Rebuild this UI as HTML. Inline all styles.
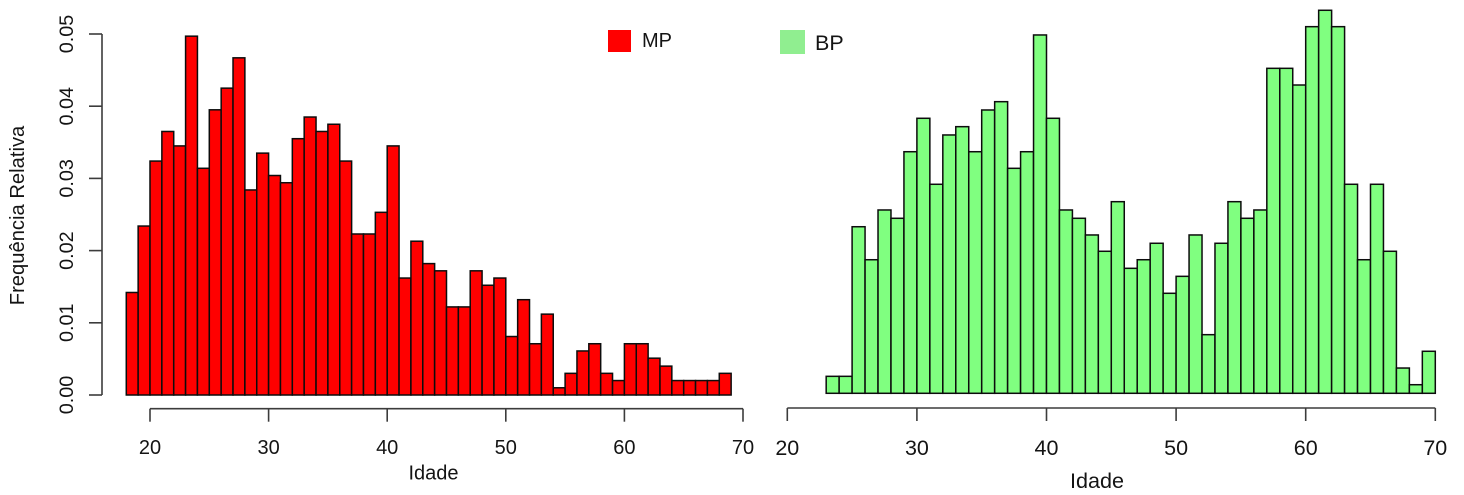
<!DOCTYPE html>
<html lang="pt">
<head>
<meta charset="utf-8">
<title>Frequência Relativa por Idade</title>
<style>
html,body{margin:0;padding:0;background:#fff;width:1464px;height:495px;overflow:hidden}
svg{display:block;filter:blur(0.35px)}
text{font-family:"Liberation Sans",Arial,sans-serif;fill:#141414}
</style>
</head>
<body>
<svg id="chart" xmlns="http://www.w3.org/2000/svg" width="1464" height="495" viewBox="0 0 1464 495">
  <rect x="0" y="0" width="1464" height="495" fill="#ffffff"/>
  <g id="left-panel"></g>
  <g id="right-panel"></g>
  <text transform="translate(24,215.5) rotate(-90)" text-anchor="middle" font-size="20.2">Frequência Relativa</text>
  <text x="433.5" y="479.5" text-anchor="middle" font-size="20">Idade</text>
  <text x="1097" y="488" text-anchor="middle" font-size="21.6">Idade</text>
  <g>
    <rect x="608" y="30" width="23" height="22" fill="#ff0000"/>
    <text x="642" y="47" font-size="20">MP</text>
  </g>
  <g>
    <rect x="780" y="30" width="25" height="24" fill="#90ee90"/>
    <text x="815" y="50" font-size="21.5">BP</text>
  </g>
</svg>
<script>
const mpStartAge = 18;
const mpValues = [
  0.0142, 0.0234, 0.0324, 0.0365, 0.0345, 0.0497, 0.0314, 0.0395, 0.0425, 0.0467,
  0.0284, 0.0335, 0.0304, 0.0294, 0.0355, 0.0385, 0.0365, 0.0375, 0.0324, 0.0223,
  0.0223, 0.0253, 0.0345, 0.0162, 0.0213, 0.0182, 0.0172, 0.0122, 0.0122, 0.0172,
  0.0152, 0.0162, 0.0081, 0.0132, 0.0071, 0.0112, 0.0010, 0.0030, 0.0061, 0.0071,
  0.0030, 0.0020, 0.0071, 0.0071, 0.0051, 0.0040, 0.0020, 0.0020, 0.0020, 0.0020,
  0.0030
];
const bpStartAge = 23;
const bpValues = [
  0.00235, 0.00235, 0.02307, 0.0185, 0.02539, 0.02424, 0.03346, 0.03809, 0.02895, 0.03578,
  0.03693, 0.03346, 0.03924, 0.04039, 0.03116, 0.03346, 0.04963, 0.03809, 0.02539, 0.02424,
  0.02193, 0.01967, 0.02654, 0.01731, 0.0185, 0.02078, 0.01385, 0.0162, 0.02193, 0.00812,
  0.02078, 0.02654, 0.02424, 0.02539, 0.04501, 0.04501, 0.0427, 0.05078, 0.05305, 0.05078,
  0.02895, 0.0185, 0.02895, 0.01967, 0.0035, 0.00119, 0.00582
];
const xTickValues = [20, 30, 40, 50, 60, 70];
const yTickValues = [0, 0.01, 0.02, 0.03, 0.04, 0.05];

const NS = 'http://www.w3.org/2000/svg';
const AXIS_COLOR = '#3c3c3c';
const BAR_EDGE = '#0c0c0c';

const mpX = v => 150 + (v - 20) * 11.86;
const mpY = v => 395 - v * 7220;
const bpX = v => 787.3 + (v - 20) * 12.96;
const bpY = v => 393.3 - v * 7220;

function make(tag, attrs, parent) {
  const el = document.createElementNS(NS, tag);
  for (const k in attrs) el.setAttribute(k, attrs[k]);
  parent.appendChild(el);
  return el;
}

function drawBars(parent, values, startAge, xScale, yScale, fill) {
  values.forEach((v, i) => {
    const x0 = xScale(startAge + i);
    const x1 = xScale(startAge + i + 1);
    const top = yScale(v);
    const bar = make('rect', {
      x: x0.toFixed(2), y: top.toFixed(2),
      width: (x1 - x0).toFixed(2), height: (yScale(0) - top).toFixed(2),
      fill: fill, stroke: BAR_EDGE, 'stroke-width': 1.5
    }, parent);
    
    
  });
}

function drawXAxis(parent, xScale, axisY, tickLen, labelY, fontSize) {
  const line = make('line', {
    x1: xScale(xTickValues[0]), x2: xScale(xTickValues[xTickValues.length - 1]),
    y1: axisY, y2: axisY, stroke: AXIS_COLOR, 'stroke-width': 1.6
  }, parent);
  
  
  xTickValues.forEach(v => {
    const tick = make('line', {
      x1: xScale(v), x2: xScale(v), y1: axisY, y2: axisY + tickLen,
      stroke: AXIS_COLOR, 'stroke-width': 1.6
    }, parent);
    
    
    const label = make('text', {
      x: xScale(v), y: labelY, 'text-anchor': 'middle', 'font-size': fontSize
    }, parent);
    label.textContent = String(v);
    
    
  });
}

function drawYAxis(parent, yScale) {
  const line = make('line', {
    x1: 102, x2: 102,
    y1: yScale(yTickValues[0]), y2: yScale(yTickValues[yTickValues.length - 1]),
    stroke: AXIS_COLOR, 'stroke-width': 1.6
  }, parent);
  
  
  yTickValues.forEach(v => {
    const y = yScale(v);
    const tick = make('line', {
      x1: 89, x2: 102, y1: y, y2: y, stroke: AXIS_COLOR, 'stroke-width': 1.6
    }, parent);
    
    
    const label = make('text', {
      transform: 'translate(73,' + y + ') rotate(-90)',
      'text-anchor': 'middle', 'font-size': 19.8
    }, parent);
    label.textContent = v.toFixed(2);
    
    
  });
}

const leftPanel = document.getElementById('left-panel');
const rightPanel = document.getElementById('right-panel');
drawBars(leftPanel, mpValues, mpStartAge, mpX, mpY, '#ff0000');
drawXAxis(leftPanel, mpX, 408.7, 13, 454, 20);
drawYAxis(leftPanel, mpY);
drawBars(rightPanel, bpValues, bpStartAge, bpX, bpY, '#80ff80');
drawXAxis(rightPanel, bpX, 408, 13, 455, 21.5);
</script>
</body>
</html>
